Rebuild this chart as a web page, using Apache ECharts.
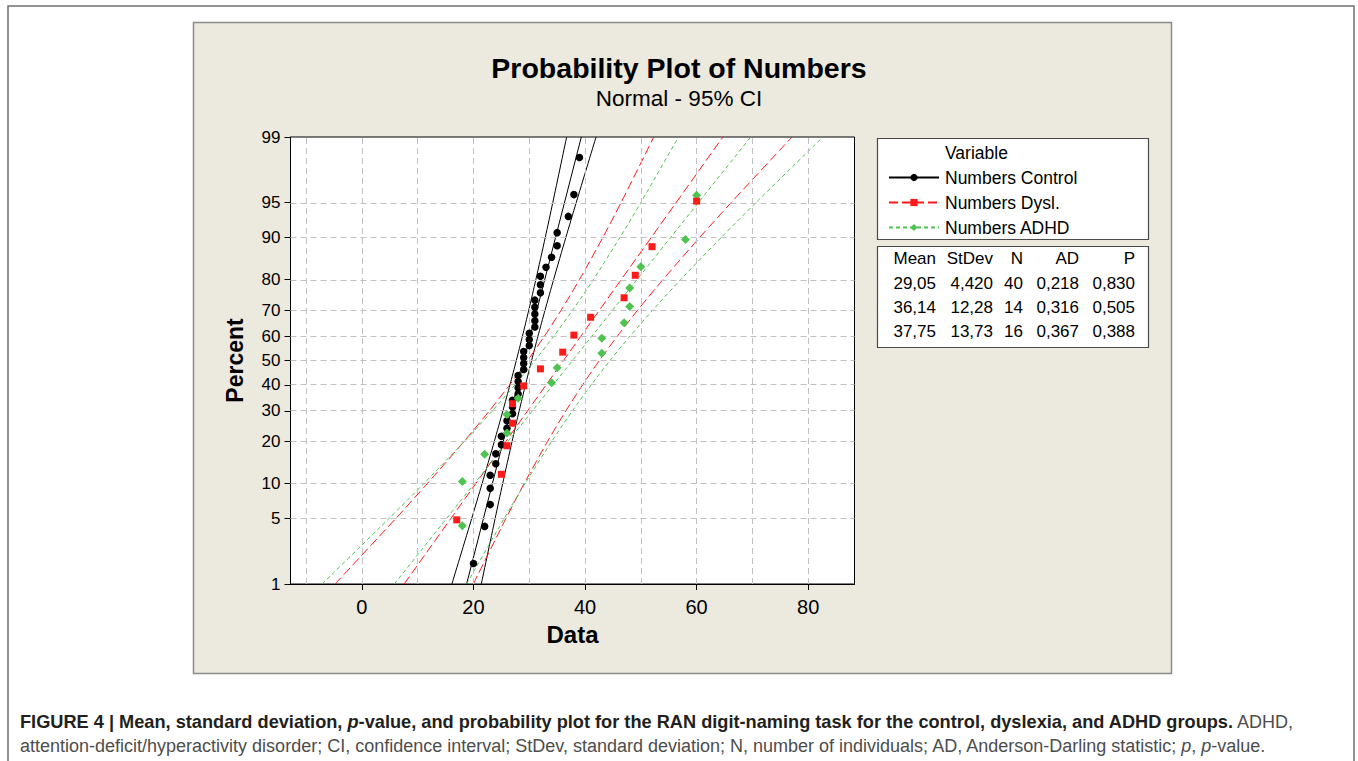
<!DOCTYPE html>
<html>
<head>
<meta charset="utf-8">
<script src="https://cdn.jsdelivr.net/npm/echarts@6/dist/echarts.min.js"></script>
<style>
  html, body { margin: 0; padding: 0; background: #fff; }
  #chart { position: absolute; left: 0; top: 0; width: 1358px; height: 761px; }
  #cap { position: absolute; left: 20px; top: 710px; width: 1330px; font-family: "Liberation Sans", Arial, sans-serif;
         font-size: 18px; line-height: 24px; color: #4d4d4d; white-space: nowrap; }
  #cap b { color: #231f20; font-size: 18.2px; }
</style>
</head>
<body>
<div id="chart"></div>
<div id="cap"><b>FIGURE 4 | Mean, standard deviation, <i>p</i>-value, and probability plot for the RAN digit-naming task for the control, dyslexia, and ADHD groups.</b> ADHD,<br>attention-deficit/hyperactivity disorder; CI, confidence interval; StDev, standard deviation; N, number of individuals; AD, Anderson-Darling statistic; <i>p</i>, <i>p</i>-value.</div>
<script>
// ---------------- data ----------------
const groupNames = ['Numbers Control', 'Numbers Dysl.', 'Numbers ADHD'];

const controlData = [20,22,23,23,23,24,24,25,25,26,26,27,27,27,28,28,28,28,29,29,29,29,30,30,30,31,31,31,31,31,32,32,32,33,34,35,35,37,38,39];
const controlPct = [1.73,4.21,6.68,9.16,11.63,14.11,16.58,19.06,21.53,24.01,26.49,28.96,31.44,33.91,36.39,38.86,41.34,43.81,46.29,48.76,51.24,53.71,56.19,58.66,61.14,63.61,66.09,68.56,71.04,73.51,75.99,78.47,80.94,83.42,85.89,88.37,90.84,93.32,95.79,98.27];

const dyslData = [17,25,26,27,27,29,32,36,38,41,47,49,52,60];
const dyslPct = [4.86,11.81,18.75,25.69,32.64,39.58,46.53,53.47,60.42,67.36,74.31,81.25,88.19,95.14];

const adhdData = [18,18,22,26,26,28,34,35,43,43,47,48,48,50,58,60];
const adhdPct = [4.27,10.37,16.46,22.56,28.66,34.76,40.85,46.95,53.05,59.15,65.24,71.34,77.44,83.54,89.63,95.73];

// fitted lines (at 1% and 99%)
const fitPct = [1, 99];
const controlFit = [18.77, 39.33];
const dyslFit = [7.57, 64.71];
const adhdFit = [5.81, 69.69];

// 95% confidence bands
const ciPct = [1,5,10,20,30,40,50,60,70,80,90,95,99];
const controlLow  = [16.13,19.68,21.54,23.74,25.27,26.54,27.68,28.78,29.91,31.18,32.87,34.22,36.70];
const controlHigh = [21.40,23.88,25.23,26.92,28.19,29.32,30.42,31.56,32.83,34.36,36.56,38.42,41.97];
const dyslLow  = [-4.81,6.07,11.72,18.32,22.84,26.49,29.71,32.72,35.72,38.99,43.20,46.47,52.32];
const dyslHigh = [19.96,25.81,29.08,33.29,36.56,39.56,42.57,45.79,49.44,53.96,60.56,66.21,77.09];
const adhdLow  = [-7.14,4.85,11.08,18.37,23.38,27.44,31.02,34.39,37.78,41.48,46.27,50.01,56.74];
const adhdHigh = [18.76,25.49,29.23,34.02,37.73,41.11,44.48,48.06,52.13,57.13,64.43,70.65,82.64];

// axes
const yTickPct = [1,5,10,20,30,40,50,60,70,80,90,95,99];
const yGridPct = [5,10,20,30,40,50,60,70,80,90,95];
const xTicks = [0,20,40,60,80];
const xGrid = [-10,0,10,20,30,40,50,60,70,80];
const xMin = -12.8, xMax = 88.3;

// statistics table
const statHeader = ['Mean','StDev','N','AD','P'];
const statMean = ['29,05','36,14','37,75'];
const statStDev = ['4,420','12,28','13,73'];
const statN = ['40','14','16'];
const statAD = ['0,218','0,316','0,367'];
const statP = ['0,830','0,505','0,388'];

// ---------------- probability (normal) scale ----------------
function probit(p) {
  const a=[-3.969683028665376e+01,2.209460984245205e+02,-2.759285104469687e+02,1.383577518672690e+02,-3.066479806614716e+01,2.506628277459239e+00];
  const b=[-5.447609879822406e+01,1.615858368580409e+02,-1.556989798598866e+02,6.680131188771972e+01,-1.328068155288572e+01];
  const c=[-7.784894002430293e-03,-3.223964580411365e-01,-2.400758277161838e+00,-2.549732539343734e+00,4.374664141464968e+00,2.938163982698783e+00];
  const d=[7.784695709041462e-03,3.224671290700398e-01,2.445134137142996e+00,3.754408661907416e+00];
  const pl=0.02425, ph=1-pl; let q, r;
  if (p < pl) { q=Math.sqrt(-2*Math.log(p)); return (((((c[0]*q+c[1])*q+c[2])*q+c[3])*q+c[4])*q+c[5])/((((d[0]*q+d[1])*q+d[2])*q+d[3])*q+1); }
  if (p <= ph) { q=p-0.5; r=q*q; return (((((a[0]*r+a[1])*r+a[2])*r+a[3])*r+a[4])*r+a[5])*q/(((((b[0]*r+b[1])*r+b[2])*r+b[3])*r+b[4])*r+1); }
  q=Math.sqrt(-2*Math.log(1-p)); return -(((((c[0]*q+c[1])*q+c[2])*q+c[3])*q+c[4])*q+c[5])/((((d[0]*q+d[1])*q+d[2])*q+d[3])*q+1);
}
const pz = p => probit(p / 100);
const yTickZ = yTickPct.map(pz);

const FONT = '"Liberation Sans", Arial, sans-serif';

const groups = [
  { name: groupNames[0], data: controlData, pct: controlPct, fit: controlFit, low: controlLow, high: controlHigh,
    color: '#000000', dash: 'solid', symbol: 'circle', size: 7.5 },
  { name: groupNames[1], data: dyslData, pct: dyslPct, fit: dyslFit, low: dyslLow, high: dyslHigh,
    color: '#ff1a1a', dash: [9, 4], symbol: 'rect', size: 7 },
  { name: groupNames[2], data: adhdData, pct: adhdPct, fit: adhdFit, low: adhdLow, high: adhdHigh,
    color: '#4fc34f', dash: [4, 3], symbol: 'diamond', size: 9 }
];

const series = [];
series.push({
  type: 'line', name: 'gridlines', data: [], silent: true, z: 1,
  markLine: {
    silent: true, symbol: 'none', animation: false, label: { show: false },
    lineStyle: { color: '#c0c0c0', type: [6, 4], width: 1 },
    emphasis: { disabled: true },
    data: yGridPct.map(p => ({ yAxis: pz(p) })).concat(xGrid.map(x => ({ xAxis: x })))
  }
});
groups.forEach(g => {
  const ls = { color: g.color, width: 1, type: g.dash };
  series.push({
    type: 'line', name: g.name, silent: true, z: 3,
    data: fitPct.map((p, i) => [g.fit[i], pz(p)]),
    symbol: g.symbol, symbolSize: g.size, showSymbol: false,
    lineStyle: ls, itemStyle: { color: g.color }
  });
  ['low', 'high'].forEach(k => {
    series.push({
      type: 'line', name: g.name + ' CI ' + k, silent: true, z: 3,
      data: ciPct.map((p, i) => [g[k][i], pz(p)]),
      symbol: 'none', showSymbol: false, smooth: 0.25,
      lineStyle: ls, itemStyle: { color: g.color }
    });
  });
});
[0, 2, 1].forEach(idx => {
  const g = groups[idx];
  series.push({
    type: 'scatter', name: g.name + ' data', z: 5,
    data: g.data.map((x, i) => [x, pz(g.pct[i])]),
    symbol: g.symbol, symbolSize: g.size,
    itemStyle: { color: g.color, opacity: 1 }
  });
});

// stats table graphics
const colRight = [936, 993, 1023, 1079, 1135];
const rowY = [258, 283, 307, 331];
const tableRows = [statHeader].concat([0,1,2].map(i => [statMean[i], statStDev[i], statN[i], statAD[i], statP[i]]));
const tableText = [];
tableRows.forEach((row, r) => row.forEach((t, c) => tableText.push({
  type: 'text', x: colRight[c], y: rowY[r], z: 10,
  style: { text: t, align: 'right', verticalAlign: 'middle', font: '17px ' + FONT, fill: '#000' }
})));

const chart = echarts.init(document.getElementById('chart'), null, { renderer: 'svg' });
chart.setOption({
  animation: false,
  backgroundColor: 'transparent',
  title: {
    text: 'Probability Plot of Numbers', subtext: 'Normal - 95% CI',
    left: 'center', top: 47, itemGap: 2,
    textStyle: { fontFamily: FONT, fontSize: 28.5, fontWeight: 'bold', color: '#000', lineHeight: 32 },
    subtextStyle: { fontFamily: FONT, fontSize: 22.5, color: '#000', lineHeight: 24 }
  },
  grid: { left: 290.5, top: 137, width: 564, height: 447, show: true, backgroundColor: '#fff', borderColor: '#000', borderWidth: 1 },
  legend: {
    data: groupNames, orient: 'vertical', left: 883, top: 163.5, z: 12,
    itemWidth: 50, itemHeight: 9, itemGap: 7, selectedMode: false,
    textStyle: { fontFamily: FONT, fontSize: 17.5, color: '#000', lineHeight: 17, padding: [0, 0, 0, 1] }
  },
  xAxis: {
    type: 'value', min: xMin, max: xMax,
    name: 'Data', nameLocation: 'middle', nameGap: 38,
    nameTextStyle: { fontFamily: FONT, fontSize: 24, fontWeight: 'bold', color: '#000' },
    axisLine: { onZero: false, lineStyle: { color: '#000', width: 1 } },
    axisTick: { show: true, length: 6, lineStyle: { color: '#000' }, customValues: xTicks },
    axisLabel: { customValues: xTicks, fontFamily: FONT, fontSize: 20, color: '#000', margin: 13 },
    splitLine: { show: false }
  },
  yAxis: {
    type: 'value', min: yTickZ[0], max: yTickZ[yTickZ.length - 1],
    name: 'Percent', nameLocation: 'middle', nameGap: 44, nameRotate: 90,
    nameTextStyle: { fontFamily: FONT, fontSize: 23, fontWeight: 'bold', color: '#000' },
    axisLine: { onZero: false, lineStyle: { color: '#000', width: 1 } },
    axisTick: { show: true, length: 6, lineStyle: { color: '#000' }, customValues: yTickZ },
    axisLabel: {
      customValues: yTickZ, fontFamily: FONT, fontSize: 17, color: '#000', margin: 10,
      formatter: v => {
        let best = 0;
        yTickZ.forEach((z, i) => { if (Math.abs(z - v) < Math.abs(yTickZ[best] - v)) best = i; });
        return String(yTickPct[best]);
      }
    },
    splitLine: { show: false }
  },
  graphic: [
    { type: 'polyline', z: -20, silent: true,
      shape: { points: [[8, 800], [8, 6], [1354, 6], [1354, 800]] },
      style: { stroke: '#707070', lineWidth: 1.5, fill: null } },
    { type: 'rect', z: -10, silent: true,
      shape: { x: 193.5, y: 22.5, width: 978, height: 651 },
      style: { fill: '#ECE9DF', stroke: '#8c8c8c', lineWidth: 1.5 } },
    { type: 'rect', z: -5, silent: true,
      shape: { x: 877.5, y: 138.5, width: 271, height: 101 },
      style: { fill: '#fff', stroke: '#4a4a4a', lineWidth: 1.2 } },
    { type: 'text', z: 10, x: 945, y: 153,
      style: { text: 'Variable', verticalAlign: 'middle', font: '17.5px ' + FONT, fill: '#000' } },
    { type: 'rect', z: -5, silent: true,
      shape: { x: 877.5, y: 246.5, width: 271, height: 101 },
      style: { fill: '#fff', stroke: '#4a4a4a', lineWidth: 1.2 } }
  ].concat(tableText),
  series: series
});
</script>
</body>
</html>
